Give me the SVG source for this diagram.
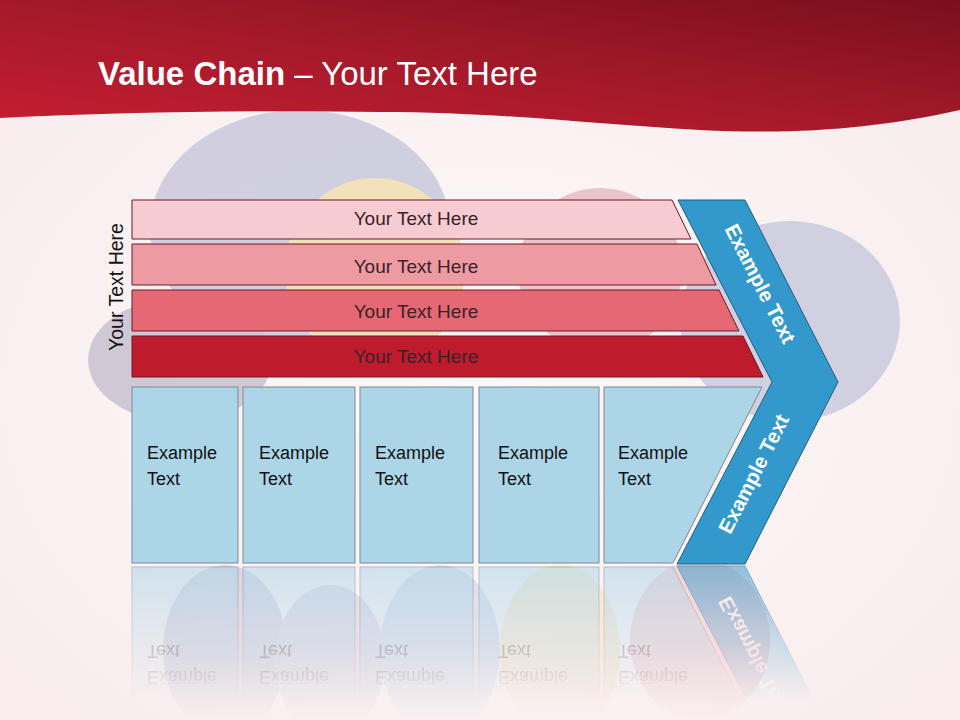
<svg xmlns="http://www.w3.org/2000/svg" width="960" height="720" viewBox="0 0 960 720">
<defs>
<radialGradient id="bg" cx="0.5" cy="0.55" r="0.7">
<stop offset="0" stop-color="#fdf8f9"/>
<stop offset="1" stop-color="#f8eced"/>
</radialGradient>
<linearGradient id="hdr" x1="0" y1="1" x2="1" y2="0">
<stop offset="0" stop-color="#c61e31"/>
<stop offset="0.5" stop-color="#a4192a"/>
<stop offset="1" stop-color="#7a0f1b"/>
</linearGradient>
<linearGradient id="fade" x1="0" y1="0" x2="0" y2="1">
<stop offset="0" stop-color="#fff" stop-opacity="0.55"/>
<stop offset="1" stop-color="#fff" stop-opacity="0"/>
</linearGradient>
<linearGradient id="fade2" x1="0" y1="0" x2="0" y2="1">
<stop offset="0" stop-color="#fff" stop-opacity="0.45"/>
<stop offset="0.6" stop-color="#fff" stop-opacity="0.3"/>
<stop offset="1" stop-color="#fff" stop-opacity="0"/>
</linearGradient>
<mask id="refl" maskUnits="userSpaceOnUse" x="0" y="565" width="960" height="155">
<rect x="0" y="565" width="960" height="135" fill="url(#fade)"/>
</mask>
<mask id="refl2" maskUnits="userSpaceOnUse" x="0" y="565" width="960" height="155">
<rect x="0" y="565" width="960" height="155" fill="url(#fade2)"/>
</mask>
<style>
.bar{stroke:#6b1a22;stroke-width:1}
.bt{font-family:"Liberation Sans",Arial,sans-serif;font-size:19px;fill:#3a2226;text-anchor:middle}
.box{fill:#acd5e8;stroke:#7d8a94;stroke-width:1}
.xt{font-family:"Liberation Sans",Arial,sans-serif;font-size:18px;fill:#111}
.chev{fill:#3399cc;stroke:#1f5f80;stroke-width:1}
.ct{font-family:"Liberation Sans",Arial,sans-serif;font-size:20.5px;font-weight:bold;fill:#fff;text-anchor:middle}
</style>
</defs>

<rect width="960" height="720" fill="url(#bg)"/>

<g id="blobs" opacity="0.85">
<ellipse cx="300" cy="228" rx="150" ry="118" fill="#c9c9dc"/>
<ellipse cx="180" cy="360" rx="92" ry="62" fill="#c9c3d0"/>
<ellipse cx="375" cy="270" rx="90" ry="92" fill="#f1dfb0"/>
<ellipse cx="600" cy="270" rx="82" ry="82" fill="#e6bcc4"/>
<ellipse cx="790" cy="321" rx="110" ry="100" fill="#c9cadd"/>
</g>

<g id="reflected-blobs" mask="url(#refl2)">
<ellipse cx="225" cy="650" rx="62" ry="85" fill="#b9b3cc"/>
<ellipse cx="330" cy="660" rx="55" ry="75" fill="#c3bcd2"/>
<ellipse cx="440" cy="650" rx="60" ry="85" fill="#b9c4dc"/>
<ellipse cx="560" cy="650" rx="60" ry="85" fill="#f3dcb0"/>
<ellipse cx="700" cy="640" rx="70" ry="80" fill="#eeb3b8"/>
</g>

<path id="header" d="M0,0 L960,0 L960,110 C880,128 800,135 700,130 C590,124 500,112 380,112 C260,110 120,112 0,118 Z" fill="url(#hdr)"/>

<g id="title">
<text x="98" y="85" font-family="'Liberation Sans',Arial,sans-serif" font-size="33" fill="#fff"><tspan font-weight="bold">Value Chain</tspan> – Your Text Here</text>
</g>

<g id="side-label">
<text transform="translate(123,287) rotate(-90)" font-family="'Liberation Sans',Arial,sans-serif" font-size="19.5" fill="#111" text-anchor="middle">Your Text Here</text>
</g>

<g id="main">
<g id="bar1"><path class="bar" d="M132,200 L672,200 L691,239 L132,239 Z" fill="#f7cbd2"/><text class="bt" x="416" y="225">Your Text Here</text></g>
<g id="bar2"><path class="bar" d="M132,244 L697,244 L716,285 L132,285 Z" fill="#ee9aa3"/><text class="bt" x="416" y="273">Your Text Here</text></g>
<g id="bar3"><path class="bar" d="M132,290 L719,290 L739,331 L132,331 Z" fill="#e66874"/><text class="bt" x="416" y="318">Your Text Here</text></g>
<g id="bar4"><path class="bar" d="M132,336 L743,336 L763,377 L132,377 Z" fill="#be1c2c"/><text class="bt" x="416" y="363">Your Text Here</text></g>

<g id="box1"><rect class="box" x="132" y="387" width="106" height="176"/><text class="xt" x="147" y="459">Example</text><text class="xt" x="147" y="485">Text</text></g>
<g id="box2"><rect class="box" x="243" y="387" width="112" height="176"/><text class="xt" x="259" y="459">Example</text><text class="xt" x="259" y="485">Text</text></g>
<g id="box3"><rect class="box" x="360" y="387" width="113" height="176"/><text class="xt" x="375" y="459">Example</text><text class="xt" x="375" y="485">Text</text></g>
<g id="box4"><rect class="box" x="479" y="387" width="120" height="176"/><text class="xt" x="498" y="459">Example</text><text class="xt" x="498" y="485">Text</text></g>
<g id="box5"><path class="box" d="M604,387 L762,387 L673,563 L604,563 Z"/><text class="xt" x="618" y="459">Example</text><text class="xt" x="618" y="485">Text</text></g>

<g id="chevron"><path class="chev" d="M678,200 L745,200 L838,382 L745,564 L677,564 L772,382 Z"/>
<text class="ct" transform="translate(754,287) rotate(63)">Example Text</text>
<text class="ct" transform="translate(760,477) rotate(-63)">Example Text</text></g>
</g>

<g id="reflection" mask="url(#refl)">
<g transform="translate(0,1130) scale(1,-1)">
<rect class="box" x="132" y="387" width="106" height="176"/><text class="xt" x="147" y="459">Example</text><text class="xt" x="147" y="485">Text</text>
<rect class="box" x="243" y="387" width="112" height="176"/><text class="xt" x="259" y="459">Example</text><text class="xt" x="259" y="485">Text</text>
<rect class="box" x="360" y="387" width="113" height="176"/><text class="xt" x="375" y="459">Example</text><text class="xt" x="375" y="485">Text</text>
<rect class="box" x="479" y="387" width="120" height="176"/><text class="xt" x="498" y="459">Example</text><text class="xt" x="498" y="485">Text</text>
<path class="box" d="M604,387 L762,387 L673,563 L604,563 Z"/><text class="xt" x="618" y="459">Example</text><text class="xt" x="618" y="485">Text</text>
<path class="chev" d="M678,200 L745,200 L838,382 L745,564 L677,564 L772,382 Z"/>
<text class="ct" transform="translate(760,477) rotate(-63)">Example Text</text>
</g>
</g>
</svg>
